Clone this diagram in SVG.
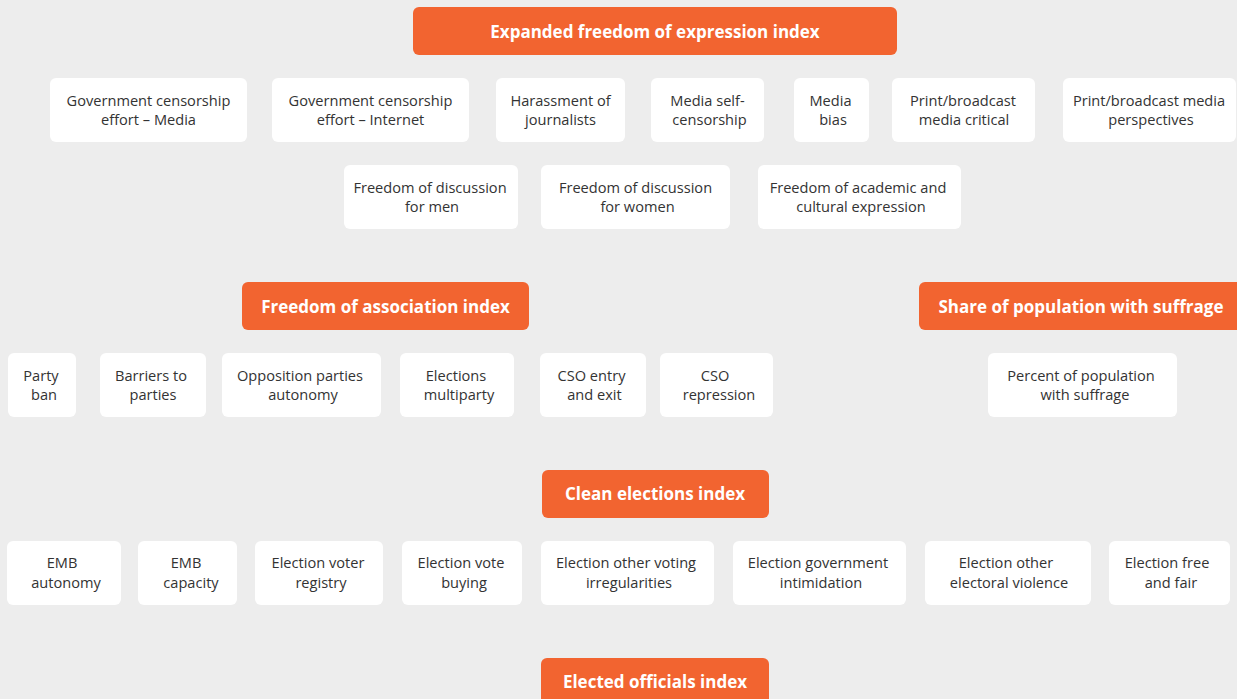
<svg xmlns="http://www.w3.org/2000/svg" width="1237" height="699" viewBox="0 0 1237 699">
<style>
.bg{fill:#ededed}
.h rect{fill:#f26430}
.h text{fill:#ffffff;font-family:"Open Sans","Noto Sans",sans-serif;font-weight:bold;font-size:17px;text-anchor:middle}
.n rect{fill:#ffffff}
.n text{fill:#333333;font-family:"Open Sans","Noto Sans",sans-serif;font-size:14.6px;text-anchor:middle}
</style>
<rect class="bg" x="0" y="0" width="1237" height="699"/>
<g id="h-expression" class="h"><rect x="413" y="7" width="484" height="48" rx="6"/><text x="655" y="37.5">Expanded freedom of expression index</text></g>
<g id="n-gcm" class="n"><rect x="50" y="78" width="197" height="64" rx="6"/><text x="148.5" y="105.5">Government censorship</text><text x="148.5" y="124.5">effort – Media</text></g>
<g id="n-gci" class="n"><rect x="272" y="78" width="197" height="64" rx="6"/><text x="370.5" y="105.5">Government censorship</text><text x="370.5" y="124.5">effort – Internet</text></g>
<g id="n-harass" class="n"><rect x="496" y="78" width="129" height="64" rx="6"/><text x="560.5" y="105.5">Harassment of</text><text x="560.5" y="124.5">journalists</text></g>
<g id="n-selfcens" class="n"><rect x="651" y="78" width="113" height="64" rx="6"/><text x="707.5" y="105.5">Media self-</text><text x="709.5" y="124.5">censorship</text></g>
<g id="n-bias" class="n"><rect x="794" y="78" width="75" height="64" rx="6"/><text x="830.5" y="105.5">Media</text><text x="833" y="124.5">bias</text></g>
<g id="n-critical" class="n"><rect x="892" y="78" width="143" height="64" rx="6"/><text x="963" y="105.5">Print/broadcast</text><text x="964" y="124.5">media critical</text></g>
<g id="n-persp" class="n"><rect x="1063" y="78" width="173" height="64" rx="6"/><text x="1149" y="105.5">Print/broadcast media</text><text x="1151" y="124.5">perspectives</text></g>
<g id="n-men" class="n"><rect x="344" y="165" width="174" height="64" rx="6"/><text x="430" y="192.5">Freedom of discussion</text><text x="432" y="211.5">for men</text></g>
<g id="n-women" class="n"><rect x="541" y="165" width="189" height="64" rx="6"/><text x="635.5" y="192.5">Freedom of discussion</text><text x="637.5" y="211.5">for women</text></g>
<g id="n-academic" class="n"><rect x="758" y="165" width="203" height="64" rx="6"/><text x="858" y="192.5">Freedom of academic and</text><text x="861" y="211.5">cultural expression</text></g>
<g id="h-association" class="h"><rect x="242" y="282" width="287" height="48" rx="6"/><text x="385.5" y="312.5">Freedom of association index</text></g>
<g id="h-suffrage" class="h"><rect x="919" y="282" width="330" height="48" rx="6"/><text x="1081" y="312.5">Share of population with suffrage</text></g>
<g id="n-partyban" class="n"><rect x="8" y="353" width="68" height="64" rx="6"/><text x="41" y="380.5">Party</text><text x="44" y="399.5">ban</text></g>
<g id="n-barriers" class="n"><rect x="100" y="353" width="106" height="64" rx="6"/><text x="151" y="380.5">Barriers to</text><text x="153" y="399.5">parties</text></g>
<g id="n-opposition" class="n"><rect x="222" y="353" width="159" height="64" rx="6"/><text x="300" y="380.5">Opposition parties</text><text x="303" y="399.5">autonomy</text></g>
<g id="n-multiparty" class="n"><rect x="400" y="353" width="114" height="64" rx="6"/><text x="456" y="380.5">Elections</text><text x="459" y="399.5">multiparty</text></g>
<g id="n-cso-entry" class="n"><rect x="540" y="353" width="106" height="64" rx="6"/><text x="591.5" y="380.5">CSO entry</text><text x="594.5" y="399.5">and exit</text></g>
<g id="n-cso-rep" class="n"><rect x="660" y="353" width="113" height="64" rx="6"/><text x="715" y="380.5">CSO</text><text x="719" y="399.5">repression</text></g>
<g id="n-percent" class="n"><rect x="988" y="353" width="189" height="64" rx="6"/><text x="1081" y="380.5">Percent of population</text><text x="1085" y="399.5">with suffrage</text></g>
<g id="h-clean" class="h"><rect x="542" y="470" width="227" height="48" rx="6"/><text x="655" y="499.5">Clean elections index</text></g>
<g id="n-emb-aut" class="n"><rect x="7" y="541" width="114" height="64" rx="6"/><text x="62" y="568">EMB</text><text x="66" y="588">autonomy</text></g>
<g id="n-emb-cap" class="n"><rect x="138" y="541" width="99" height="64" rx="6"/><text x="186" y="568">EMB</text><text x="191" y="588">capacity</text></g>
<g id="n-registry" class="n"><rect x="255" y="541" width="128" height="64" rx="6"/><text x="318" y="568">Election voter</text><text x="321" y="588">registry</text></g>
<g id="n-buying" class="n"><rect x="402" y="541" width="120" height="64" rx="6"/><text x="461" y="568">Election vote</text><text x="464" y="588">buying</text></g>
<g id="n-irreg" class="n"><rect x="541" y="541" width="173" height="64" rx="6"/><text x="626" y="568">Election other voting</text><text x="629" y="588">irregularities</text></g>
<g id="n-intim" class="n"><rect x="733" y="541" width="173" height="64" rx="6"/><text x="818" y="568">Election government</text><text x="821" y="588">intimidation</text></g>
<g id="n-violence" class="n"><rect x="925" y="541" width="166" height="64" rx="6"/><text x="1006" y="568">Election other</text><text x="1009" y="588">electoral violence</text></g>
<g id="n-freefair" class="n"><rect x="1109" y="541" width="121" height="64" rx="6"/><text x="1167" y="568">Election free</text><text x="1171" y="588">and fair</text></g>
<g id="h-officials" class="h"><rect x="541" y="658" width="228" height="60" rx="6"/><text x="655" y="687.5">Elected officials index</text></g>
<g id="connectors"/>
</svg>
